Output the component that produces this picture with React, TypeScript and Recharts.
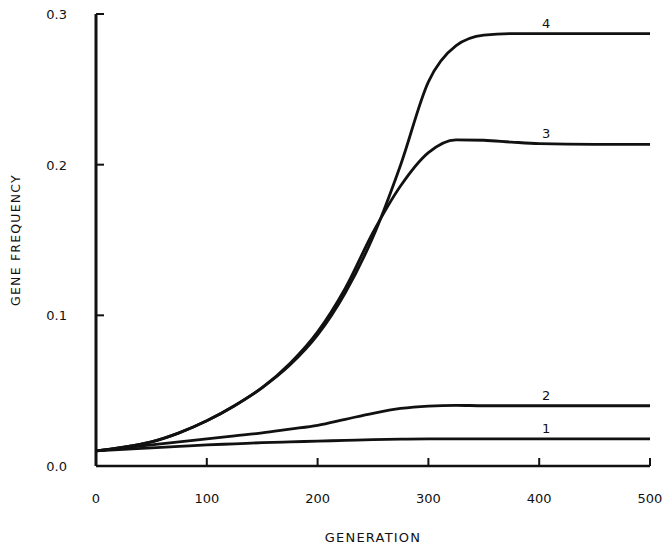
import { LineChart, Line, XAxis, YAxis } from 'recharts';

// generations sampled along the x axis
const generations = [0, 25, 50, 75, 100, 125, 150, 175, 200, 225, 250, 275, 300, 325, 350, 375, 400, 450, 500];

// gene frequency curves
const curve1 = [0.010, 0.011, 0.012, 0.013, 0.014, 0.0147, 0.0155, 0.016, 0.0165, 0.017, 0.0175, 0.0178, 0.018, 0.018, 0.018, 0.018, 0.018, 0.018, 0.018];
const curve2 = [0.010, 0.012, 0.014, 0.016, 0.018, 0.020, 0.022, 0.0245, 0.027, 0.031, 0.035, 0.0382, 0.0398, 0.0403, 0.040, 0.040, 0.040, 0.040, 0.040];
const curve3 = [0.010, 0.0125, 0.016, 0.022, 0.030, 0.040, 0.052, 0.068, 0.089, 0.118, 0.155, 0.186, 0.208, 0.2165, 0.2162, 0.215, 0.214, 0.2135, 0.2135];
const curve4 = [0.010, 0.0125, 0.016, 0.022, 0.030, 0.040, 0.052, 0.067, 0.087, 0.115, 0.152, 0.200, 0.255, 0.279, 0.286, 0.287, 0.287, 0.287, 0.287];

const xTicks = [0, 100, 200, 300, 400, 500];
const yTicks = [0, 0.1, 0.2, 0.3];
const labelGeneration = 400;

const data = generations.map((g, i) => ({
    gen: g,
    c1: curve1[i],
    c2: curve2[i],
    c3: curve3[i],
    c4: curve4[i],
}));

const labelIndex = generations.indexOf(labelGeneration);
const font = '"DejaVu Sans", sans-serif';
const ink = '#111';

// tick lines point inward (negative tickSize), so the text is pushed back out here
const YTick = (props: any) => {
    const { x, y, payload } = props;
    return (
        <text x={x - 37} y={y} dy={5} textAnchor='end' fontSize={13} fontFamily={font} fill={ink}>
            {Number(payload.value).toFixed(1)}
        </text>
    );
};

const XTick = (props: any) => {
    const { x, y, payload } = props;
    return (
        <text x={x} y={y} dy={45} textAnchor='middle' fontSize={13} fontFamily={font} fill={ink}>
            {payload.value}
        </text>
    );
};

const curveLabel = (name: string) => (props: any) => {
    const { x, y, index } = props;
    if (index !== labelIndex) return null;
    return (
        <text key={name} x={x + 7} y={y - 6} textAnchor='middle' fontSize={13} fontFamily={font} fill={ink}>
            {name}
        </text>
    );
};

export default function App() {
    return (
        <div style={{ position: 'absolute', left: 0, top: 0, width: 668, height: 548, background: '#fff' }}>
            <LineChart width={668} height={548} data={data} margin={{ top: 14, right: 18, bottom: 0, left: 0 }}>
                <XAxis
                    dataKey='gen'
                    type='number'
                    domain={[0, 500]}
                    ticks={xTicks}
                    height={82}
                    tickSize={-8}
                    tickMargin={0}
                    tickLine={{ stroke: ink, strokeWidth: 2 }}
                    tick={<XTick />}
                    axisLine={{ stroke: ink, strokeWidth: 2.5 }}
                    label={{ value: 'GENERATION', position: 'insideBottom', offset: 6, fontSize: 13, fontFamily: font, fill: ink, letterSpacing: 1.2 }}
                />
                <YAxis
                    type='number'
                    domain={[0, 0.3]}
                    ticks={yTicks}
                    width={96}
                    tickSize={-8}
                    tickMargin={0}
                    tickLine={{ stroke: ink, strokeWidth: 2 }}
                    tick={<YTick />}
                    axisLine={{ stroke: ink, strokeWidth: 3 }}
                    label={{ value: 'GENE  FREQUENCY', angle: -90, position: 'insideLeft', offset: 16, fontSize: 12.5, fontFamily: font, fill: ink, letterSpacing: 1.2, style: { textAnchor: 'middle' } }}
                />
                <Line type='monotone' dataKey='c1' stroke={ink} strokeWidth={2.8} dot={false} isAnimationActive={false} label={curveLabel('1')} />
                <Line type='monotone' dataKey='c2' stroke={ink} strokeWidth={2.8} dot={false} isAnimationActive={false} label={curveLabel('2')} />
                <Line type='monotone' dataKey='c3' stroke={ink} strokeWidth={2.8} dot={false} isAnimationActive={false} label={curveLabel('3')} />
                <Line type='monotone' dataKey='c4' stroke={ink} strokeWidth={2.8} dot={false} isAnimationActive={false} label={curveLabel('4')} />
            </LineChart>
        </div>
    );
}
